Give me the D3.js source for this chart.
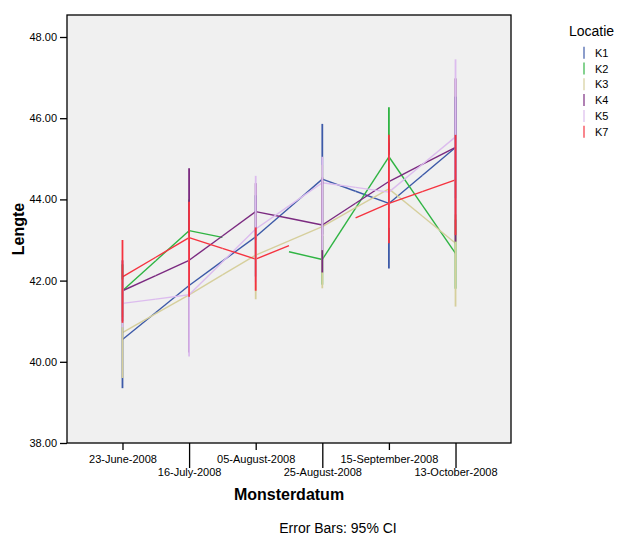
<!DOCTYPE html>
<html>
<head>
<meta charset="utf-8">
<script src="https://cdn.jsdelivr.net/npm/d3@7"></script>
<style>
  body { margin: 0; background: #fff; }
  svg { font-family: 'Liberation Sans', Arial, sans-serif; }
</style>
</head>
<body>
<div id="chart"></div>
<script>
// Categories and series
var dates = ['23-June-2008', '16-July-2008', '05-August-2008', '25-August-2008', '15-September-2008', '13-October-2008']
var locations = ['K1', 'K2', 'K3', 'K4', 'K5', 'K7']
var colors = ['#3d5aa8', '#2fb443', '#d6cf9c', '#7b2a80', '#dcbcee', '#f5333f']
var yTicks = [38, 40, 42, 44, 46, 48]

// Means per location (Lengte)
var meanK1 = [40.55, 41.88, 43.08, 44.50, 43.90, 45.28]
var meanK2 = [41.75, 43.23, 42.90, 42.52, 45.05, 42.67]
var meanK3 = [40.72, 41.65, 42.63, 43.33, 44.26, 42.92]
var meanK4 = [41.75, 42.50, 43.70, 43.37, 44.44, 45.28]
var meanK5 = [41.44, 41.65, 43.27, 44.41, 44.18, 45.54]
var meanK7 = [42.09, 43.06, 42.53, 43.19, 43.90, 44.48]

// 95% CI lower / upper bounds (null = no bar)
var lowK1 = [39.35, 40.90, 42.10, 43.14, 42.30, 44.03]
var highK1 = [41.75, 42.90, 44.10, 45.86, 45.50, 46.53]
var lowK2 = [41.10, 42.50, null, 41.90, 43.83, 41.80]
var highK2 = [42.40, 44.00, null, 43.10, 46.27, 43.50]
var lowK3 = [39.60, 40.60, 41.54, 41.81, 43.30, 41.36]
var highK3 = [41.84, 42.70, 43.70, 44.85, 45.20, 44.48]
var lowK4 = [41.00, 40.23, 43.00, 42.20, 43.40, 42.96]
var highK4 = [42.50, 44.77, 44.40, 44.54, 45.40, 46.98]
var lowK5 = [40.85, 40.13, 41.96, 42.75, 43.30, 43.63]
var highK5 = [42.03, 43.17, 44.58, 45.05, 45.10, 47.45]
var lowK7 = [40.96, 41.60, 41.75, null, 42.92, 43.12]
var highK7 = [43.00, 43.94, 43.31, null, 45.59, 45.59]

// Points where the line is broken (only half segments from neighbours)
var gapK2 = ['05-August-2008']
var gapK7 = ['25-August-2008']

var seriesData = [
  { key: 'K1', mean: meanK1, low: lowK1, high: highK1, gaps: [] },
  { key: 'K2', mean: meanK2, low: lowK2, high: highK2, gaps: gapK2 },
  { key: 'K3', mean: meanK3, low: lowK3, high: highK3, gaps: [] },
  { key: 'K4', mean: meanK4, low: lowK4, high: highK4, gaps: [] },
  { key: 'K5', mean: meanK5, low: lowK5, high: highK5, gaps: [] },
  { key: 'K7', mean: meanK7, low: lowK7, high: highK7, gaps: gapK7 }
]

var width = 617
var height = 536
var plot = { left: 67, top: 15, right: 511, bottom: 443 }

var svg = d3.select('#chart')
  .append('svg')
  .attr('width', width)
  .attr('height', height)

var xPositionScale = d3.scalePoint()
  .domain(dates)
  .range([plot.left, plot.right])
  .padding(0.833)

var yPositionScale = d3.scaleLinear()
  .domain([38, 48])
  .range([443, 37])

var colorScale = d3.scaleOrdinal().domain(locations).range(colors)

// Plot background
svg.append('rect')
  .attr('x', plot.left)
  .attr('y', plot.top)
  .attr('width', plot.right - plot.left)
  .attr('height', plot.bottom - plot.top)
  .attr('fill', '#f0f0f0')

// Lines: each point draws half a segment toward each neighbour
var linesG = svg.append('g')
seriesData.forEach(function(s) {
  var segs = []
  for (var i = 0; i < dates.length - 1; i++) {
    var x0 = xPositionScale(dates[i]), y0 = yPositionScale(s.mean[i])
    var x1 = xPositionScale(dates[i + 1]), y1 = yPositionScale(s.mean[i + 1])
    var mx = (x0 + x1) / 2, my = (y0 + y1) / 2
    if (s.gaps.indexOf(dates[i]) < 0) segs.push([[x0, y0], [mx, my]])
    if (s.gaps.indexOf(dates[i + 1]) < 0) segs.push([[mx, my], [x1, y1]])
  }
  linesG.selectAll(null)
    .data(segs)
    .enter()
    .append('line')
    .attr('x1', d => d[0][0])
    .attr('y1', d => d[0][1])
    .attr('x2', d => d[1][0])
    .attr('y2', d => d[1][1])
    .attr('stroke', colorScale(s.key))
    .attr('stroke-width', 1.4)
})

// Error bars
var barsG = svg.append('g')
seriesData.forEach(function(s) {
  var bars = dates.map((d, i) => ({ date: d, low: s.low[i], high: s.high[i] }))
    .filter(d => d.low !== null)
  barsG.selectAll(null)
    .data(bars)
    .enter()
    .append('line')
    .attr('x1', d => xPositionScale(d.date))
    .attr('x2', d => xPositionScale(d.date))
    .attr('y1', d => yPositionScale(d.low))
    .attr('y2', d => yPositionScale(d.high))
    .attr('stroke', colorScale(s.key))
    .attr('stroke-width', 1.8)
})

// Frame
svg.append('rect')
  .attr('x', plot.left)
  .attr('y', plot.top)
  .attr('width', plot.right - plot.left)
  .attr('height', plot.bottom - plot.top)
  .attr('fill', 'none')
  .attr('stroke', '#000')
  .attr('stroke-width', 1.3)

// Y axis
var yAxis = d3.axisLeft(yPositionScale)
  .tickValues(yTicks)
  .tickFormat(d3.format('.2f'))
  .tickSize(7)
  .tickSizeOuter(0)
var yAxisG = svg.append('g')
  .attr('class', 'axis y-axis')
  .attr('transform', 'translate(' + plot.left + ',0)')
  .call(yAxis)
yAxisG.select('.domain').remove()
yAxisG.selectAll('line').attr('stroke', '#000').attr('stroke-width', 1.3)
yAxisG.selectAll('text').attr('font-size', 11).attr('fill', '#000').attr('font-family', 'Liberation Sans, Arial, sans-serif')

// X axis with staggered labels
var xAxis = d3.axisBottom(xPositionScale).tickSizeOuter(0)
var xAxisG = svg.append('g')
  .attr('class', 'axis x-axis')
  .attr('transform', 'translate(0,' + plot.bottom + ')')
  .call(xAxis)
xAxisG.select('.domain').remove()
xAxisG.selectAll('.tick line')
  .attr('stroke', '#000')
  .attr('stroke-width', 1.3)
  .attr('y2', (d, i) => (i % 2 === 0 ? 7 : 25))
xAxisG.selectAll('.tick text')
  .attr('font-size', 11)
  .attr('fill', '#000')
  .attr('font-family', 'Liberation Sans, Arial, sans-serif')
  .attr('dy', null)
  .attr('y', (d, i) => (i % 2 === 0 ? 20 : 33))

// Axis titles
svg.append('text')
  .text('Monsterdatum')
  .attr('x', (plot.left + plot.right) / 2)
  .attr('y', 500)
  .attr('text-anchor', 'middle')
  .attr('font-size', 16)
  .attr('font-weight', 'bold')

svg.append('text')
  .text('Lengte')
  .attr('transform', 'translate(18,' + (plot.top + plot.bottom) / 2 + ') rotate(-90)')
  .attr('text-anchor', 'middle')
  .attr('dominant-baseline', 'central')
  .attr('font-size', 16)
  .attr('font-weight', 'bold')

svg.append('text')
  .text('Error Bars: 95% CI')
  .attr('x', 338)
  .attr('y', 533)
  .attr('text-anchor', 'middle')
  .attr('font-size', 14)

// Legend
var legend = svg.append('g').attr('transform', 'translate(569,0)')
legend.append('text')
  .text('Locatie')
  .attr('x', 0)
  .attr('y', 36)
  .attr('font-size', 14)

var items = legend.selectAll('.legend-item')
  .data(locations)
  .enter()
  .append('g')
  .attr('class', 'legend-item')
  .attr('transform', (d, i) => 'translate(0,' + (52.7 + i * 15.8) + ')')

items.append('line')
  .attr('x1', 15)
  .attr('x2', 15)
  .attr('y1', -6)
  .attr('y2', 6)
  .attr('stroke', d => colorScale(d))
  .attr('stroke-width', 1.8)
  .attr('opacity', 0.65)

items.append('text')
  .text(d => d)
  .attr('x', 26)
  .attr('y', 4)
  .attr('font-size', 11)
</script>
</body>
</html>
